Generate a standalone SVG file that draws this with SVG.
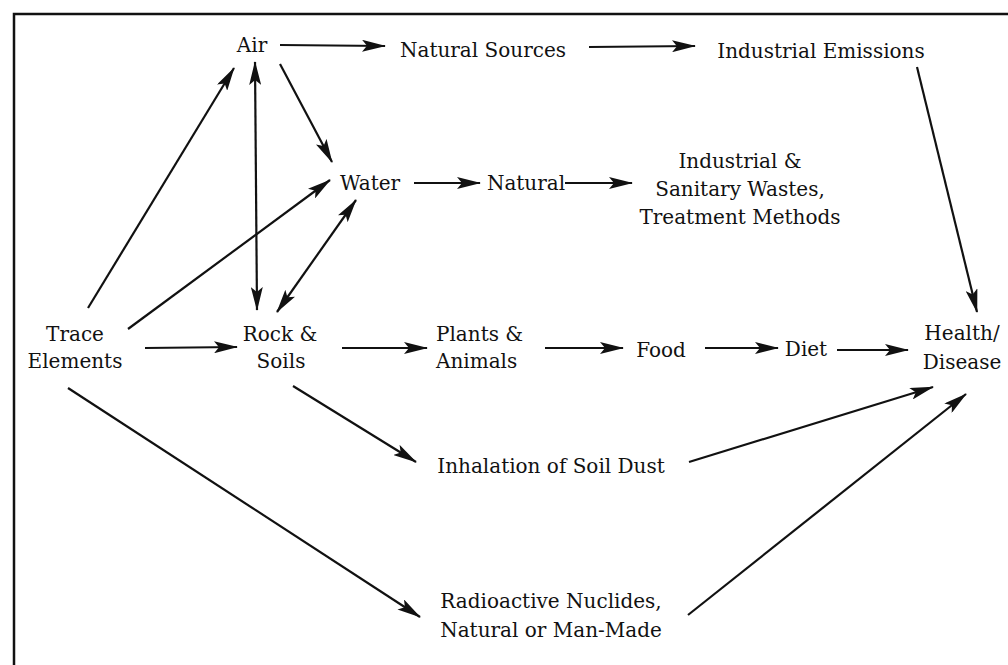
<svg xmlns="http://www.w3.org/2000/svg" width="1008" height="665" viewBox="0 0 1008 665">
<defs>
<style>
text{font-family:"DejaVu Serif","Liberation Serif",serif;font-size:20px;fill:#111;}
.c{text-anchor:middle;}
.e line{stroke:#111;stroke-width:2.2;fill:none;marker-end:url(#ah);}
.e line.d{marker-start:url(#ah);}
</style>
<marker id="ah" markerUnits="userSpaceOnUse" viewBox="0 0 24 12" markerWidth="24" markerHeight="12" refX="23" refY="6" orient="auto-start-reverse">
<path d="M0,0 L24,6 L0,12 L5,6 z" fill="#111"/>
</marker>
</defs>
<rect width="1008" height="665" fill="#fff"/>
<path d="M14,665 L14,14 L1008,14" fill="none" stroke="#111" stroke-width="2.5"/>
<g id="air"><text x="252" y="52" class="c">Air</text></g>
<g id="natural-sources"><text x="483" y="57" class="c">Natural Sources</text></g>
<g id="industrial-emissions"><text x="821" y="58" class="c">Industrial Emissions</text></g>
<g id="water"><text x="370" y="190" class="c">Water</text></g>
<g id="natural"><text x="526" y="190" class="c">Natural</text></g>
<g id="industrial-wastes"><text x="740" y="168" class="c">Industrial &amp;</text><text x="740" y="196" class="c">Sanitary Wastes,</text><text x="740" y="224" class="c">Treatment Methods</text></g>
<g id="trace-elements"><text x="75" y="341" class="c">Trace</text><text x="75" y="368" class="c">Elements</text></g>
<g id="rock-soils"><text x="280" y="341" class="c">Rock &amp;</text><text x="281" y="368" class="c">Soils</text></g>
<g id="plants-animals"><text x="436" y="341">Plants &amp;</text><text x="436" y="368">Animals</text></g>
<g id="food"><text x="661" y="357" class="c">Food</text></g>
<g id="diet"><text x="806" y="356" class="c">Diet</text></g>
<g id="health-disease"><text x="962" y="340" class="c">Health/</text><text x="962" y="369" class="c">Disease</text></g>
<g id="inhalation"><text x="551" y="473" class="c">Inhalation of Soil Dust</text></g>
<g id="radioactive"><text x="551" y="608" class="c">Radioactive Nuclides,</text><text x="551" y="637" class="c">Natural or Man-Made</text></g>
<g id="connectors" class="e">
<line x1="280" y1="45" x2="385" y2="46"/>
<line x1="589" y1="47" x2="695" y2="46"/>
<line x1="280" y1="64" x2="332" y2="162"/>
<line class="d" x1="255" y1="62" x2="257" y2="310"/>
<line x1="88" y1="308" x2="234" y2="68"/>
<line x1="128" y1="329" x2="330" y2="180"/>
<line class="d" x1="277" y1="312" x2="356" y2="200"/>
<line x1="414" y1="183" x2="480" y2="183"/>
<line x1="565" y1="183" x2="632" y2="183"/>
<line x1="145" y1="348" x2="237" y2="347"/>
<line x1="342" y1="348" x2="427" y2="348"/>
<line x1="545" y1="348" x2="623" y2="348"/>
<line x1="705" y1="348" x2="778" y2="348"/>
<line x1="837" y1="350" x2="908" y2="350"/>
<line x1="917" y1="67" x2="977" y2="312"/>
<line x1="293" y1="386" x2="416" y2="462"/>
<line x1="689" y1="462" x2="933" y2="387"/>
<line x1="68" y1="388" x2="420" y2="617"/>
<line x1="688" y1="615" x2="966" y2="394"/>
</g>
</svg>
